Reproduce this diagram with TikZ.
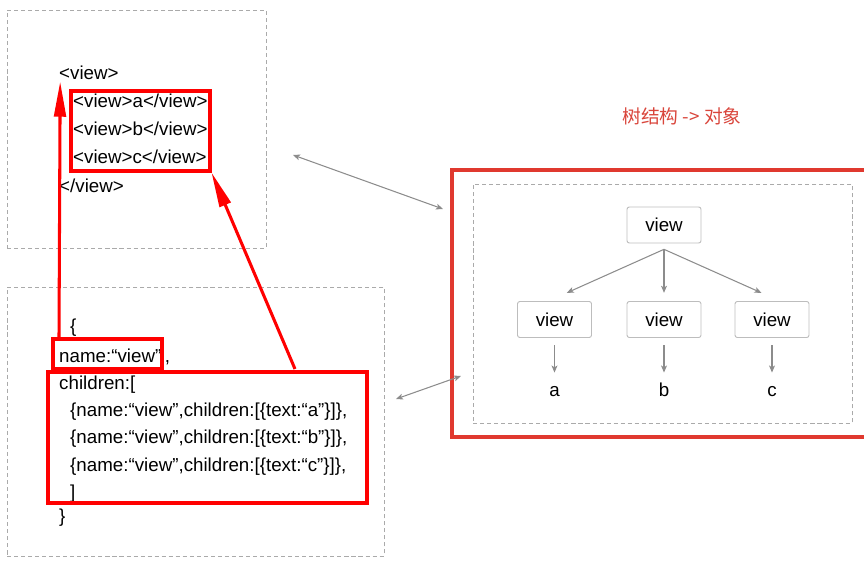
\documentclass[tikz,border=0pt]{standalone}
\usepackage{fontspec}
\setmainfont{Liberation Sans}
\newfontfamily\cjk{Noto Sans CJK SC}
\usetikzlibrary{arrows.meta,fit}
\definecolor{panelgray}{HTML}{AAAAAA}
\definecolor{linkgray}{HTML}{8C8C8C}
\definecolor{nodegray}{HTML}{BDBDBD}
\definecolor{framered}{HTML}{E0392F}
\definecolor{titlered}{HTML}{D9453B}

\begin{document}
\begin{tikzpicture}[
    x=0.03cm, y=-0.03cm,
    >={Stealth[length=6pt,width=5pt,inset=1.5pt]},
    code/.style={anchor=base west, inner sep=0pt, font=\fontsize{16}{19}\selectfont},
    panel/.style={draw=panelgray, dash pattern=on 3.5pt off 2.5pt, line width=0.8pt, inner sep=0pt},
    hilite/.style={draw=red, line width=2.6pt, inner sep=0pt},
    pointer/.style={draw=red, line width=2.6pt, -{Triangle[length=30pt,width=10pt]}},
    link/.style={draw=linkgray, line width=0.9pt},
    treenode/.style={draw=nodegray, rounded corners=2pt, line width=0.8pt, minimum width=2.22cm, minimum height=1.08cm, font=\fontsize{16}{19}\selectfont},
    leaf/.style={anchor=base, inner sep=0pt, font=\fontsize{16}{19}\selectfont}
]
\useasboundingbox (0,0) rectangle (864,565);

% Dashed panels
\node[panel, fit={(7,10) (266,248)}] (markup) {};
\node[panel, fit={(7,287) (384,556)}] (objlit) {};
\node[panel, fit={(473,184) (852,423)}] (treepanel) {};
\node[draw=framered, line width=3.8pt, inner sep=0pt, fit={(452,170) (900,437)}] (treeframe) {};

% Markup text
\node[code] (opentag) at (59,80) {<view>};
\node[code] (tagA) at (73,108) {<view>a</view>};
\node[code] (tagB) at (73,136) {<view>b</view>};
\node[code] (tagC) at (73,164) {<view>c</view>};
\node[code] (closetag) at (59,192) {</view>};

% Object text
\node[code] (brace) at (70,332) {\{};
\node[code] (namekey) at (59,362) {name:“view”\hspace{3pt},};
\node[code] (kidskey) at (59,389) {children:[};
\node[code] (kidA) at (70,416) {\{name:“view”,children:[\{text:“a”\}]\},};
\node[code] (kidB) at (70,443) {\{name:“view”,children:[\{text:“b”\}]\},};
\node[code] (kidC) at (70,471) {\{name:“view”,children:[\{text:“c”\}]\},};
\node[code] (kidsclose) at (70,498) {]};
\node[code] (braceclose) at (59,522) {\}};

% Red highlight boxes
\node[hilite, fit={(71,91) (210,171)}] (abcbox) {};
\node[hilite, fit={(53,339) (162,369)}] (namebox) {};
\node[hilite, fit={(48,372) (367,503)}] (kidsbox) {};

% Title
\node[font=\fontsize{16}{19}\selectfont\cjk, text=titlered] (title) at (682,116) {树结构 -> 对象};

% Tree
\node[treenode] (root) at (664,225) {view};
\node[treenode] (viewA) at (554.5,319.5) {view};
\node[treenode] (viewB) at (664,319.5) {view};
\node[treenode] (viewC) at (772,319.5) {view};
\node[leaf] (leafA) at (554.5,396) {a};
\node[leaf] (leafB) at (664,396) {b};
\node[leaf] (leafC) at (772,396) {c};

\draw[link,->] ([yshift=-5pt]root.south) -- ([xshift=10.5pt,yshift=7pt]viewA.north);
\draw[link,->] ([yshift=-5pt]root.south) -- ([yshift=7pt]viewB.north);
\draw[link,->] ([yshift=-5pt]root.south) -- ([xshift=-9pt,yshift=7pt]viewC.north);
\draw[link,->] ([yshift=-6pt]viewA.south) -- ([yshift=20pt]leafA.base);
\draw[link,->] ([yshift=-6pt]viewB.south) -- ([yshift=20pt]leafB.base);
\draw[link,->] ([yshift=-6pt]viewC.south) -- ([yshift=20pt]leafC.base);

% Two-way links
\coordinate (markupend) at (293,155);
\coordinate (frametop) at (443,209);
\coordinate (objend) at (396,399);
\coordinate (framelow) at (461,376);
\draw[link,<->] (markupend) -- (frametop);
\draw[link,<->] (objend) -- (framelow);

% Red pointers
\coordinate (kidsfoot) at (295,369);
\draw[pointer] (namebox.north -| opentag.south west) -- ([xshift=1pt,yshift=-1pt]opentag.south west);
\draw[pointer] (kidsfoot) -- (abcbox.south east);

\end{tikzpicture}
\end{document}
